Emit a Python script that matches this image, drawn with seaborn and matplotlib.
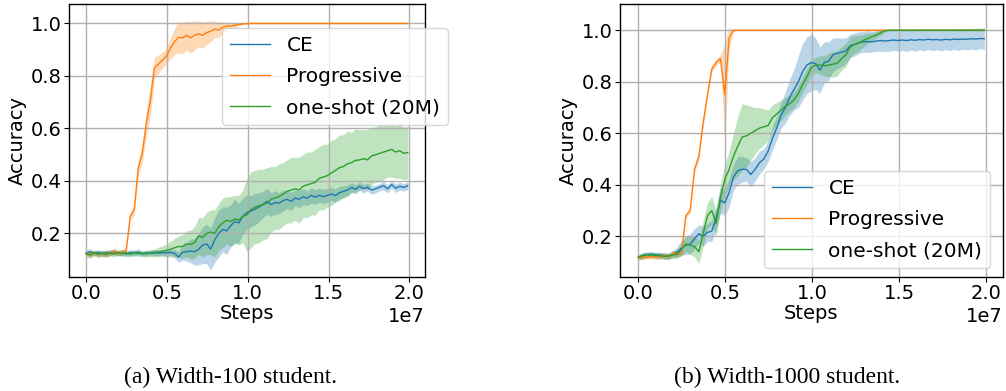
import numpy as np
import pandas as pd
import seaborn as sns
import matplotlib
matplotlib.use("Agg")
import matplotlib.pyplot as plt

################################# data #####################################

# training steps, one reading every 0.025e7 steps
steps = np.linspace(0, 1.99e7, 81)

series_names = ["CE", "Progressive", "one-shot (20M)"]
series_colors = ["tab:blue", "tab:orange", "tab:green"]

# (a) width-100 student
ce_a = [0.125, 0.130, 0.124, 0.128, 0.122, 0.127, 0.125, 0.131, 0.124, 0.128,
        0.122, 0.127, 0.125, 0.129, 0.121, 0.126, 0.124, 0.128, 0.125, 0.127,
        0.126, 0.128, 0.124, 0.110, 0.128, 0.130, 0.133, 0.130, 0.140, 0.155,
        0.160, 0.140, 0.175, 0.200, 0.215, 0.210, 0.230, 0.245, 0.240, 0.265,
        0.280, 0.285, 0.292, 0.300, 0.310, 0.322, 0.310, 0.318, 0.315, 0.325,
        0.330, 0.322, 0.335, 0.330, 0.340, 0.334, 0.345, 0.338, 0.345, 0.340,
        0.345, 0.350, 0.344, 0.355, 0.360, 0.365, 0.375, 0.368, 0.380, 0.370,
        0.376, 0.365, 0.370, 0.376, 0.382, 0.370, 0.386, 0.372, 0.380, 0.375, 0.382]
ce_a_sd = [0.010, 0.012, 0.010, 0.011, 0.010, 0.012, 0.010, 0.011, 0.010, 0.012,
           0.010, 0.011, 0.010, 0.012, 0.010, 0.011, 0.010, 0.012, 0.011, 0.010,
           0.012, 0.011, 0.015, 0.020, 0.030, 0.035, 0.045, 0.050, 0.060, 0.070,
           0.075, 0.080, 0.085, 0.090, 0.085, 0.090, 0.080, 0.085, 0.075, 0.070,
           0.065, 0.060, 0.060, 0.055, 0.050, 0.050, 0.045, 0.045, 0.040, 0.040,
           0.035, 0.035, 0.030, 0.032, 0.030, 0.028, 0.030, 0.028, 0.026, 0.028,
           0.026, 0.025, 0.026, 0.024, 0.022, 0.020, 0.018, 0.018, 0.016, 0.016,
           0.015, 0.016, 0.015, 0.014, 0.016, 0.015, 0.014, 0.016, 0.015, 0.014, 0.015]
prog_a = [0.125, 0.120, 0.126, 0.119, 0.124, 0.121, 0.126, 0.130, 0.124, 0.128,
          0.135, 0.265, 0.290, 0.450, 0.505, 0.620, 0.705, 0.830, 0.845, 0.860,
          0.875, 0.905, 0.930, 0.947, 0.945, 0.955, 0.945, 0.955, 0.960, 0.955,
          0.965, 0.970, 0.978, 0.975, 0.985, 0.990, 0.990, 0.993, 0.996, 0.998,
          0.999, 1.000, 1.000, 1.000, 1.000, 1.000, 1.000, 1.000, 1.000, 1.000,
          1.000, 1.000, 1.000, 1.000, 1.000, 1.000, 1.000, 1.000, 1.000, 1.000,
          1.000, 1.000, 1.000, 1.000, 1.000, 1.000, 1.000, 1.000, 1.000, 1.000,
          1.000, 1.000, 1.000, 1.000, 1.000, 1.000, 1.000, 1.000, 1.000, 1.000, 1.000]
prog_a_sd = [0.010, 0.012, 0.010, 0.011, 0.010, 0.012, 0.011, 0.012, 0.010, 0.011,
             0.012, 0.015, 0.020, 0.030, 0.035, 0.050, 0.060, 0.040, 0.035, 0.030,
             0.030, 0.040, 0.050, 0.060, 0.060, 0.055, 0.060, 0.055, 0.050, 0.050,
             0.045, 0.040, 0.030, 0.030, 0.020, 0.015, 0.012, 0.010, 0.006, 0.004,
             0.002, 0.002, 0.002, 0.002, 0.002, 0.002, 0.002, 0.002, 0.002, 0.002,
             0.002, 0.002, 0.002, 0.002, 0.002, 0.002, 0.002, 0.002, 0.002, 0.002,
             0.002, 0.002, 0.002, 0.002, 0.002, 0.002, 0.002, 0.002, 0.002, 0.002,
             0.002, 0.002, 0.002, 0.002, 0.002, 0.002, 0.002, 0.002, 0.002, 0.002, 0.002]
oneshot_a = [0.122, 0.118, 0.126, 0.120, 0.125, 0.119, 0.126, 0.122, 0.127, 0.123,
             0.125, 0.121, 0.126, 0.123, 0.125, 0.122, 0.126, 0.124, 0.130, 0.132,
             0.135, 0.140, 0.145, 0.150, 0.150, 0.160, 0.158, 0.165, 0.190, 0.185,
             0.200, 0.205, 0.200, 0.225, 0.240, 0.250, 0.245, 0.255, 0.250, 0.265,
             0.270, 0.290, 0.300, 0.305, 0.310, 0.315, 0.330, 0.335, 0.340, 0.350,
             0.360, 0.365, 0.370, 0.365, 0.380, 0.385, 0.390, 0.395, 0.410, 0.415,
             0.420, 0.430, 0.440, 0.450, 0.455, 0.465, 0.470, 0.478, 0.480, 0.485,
             0.480, 0.495, 0.500, 0.505, 0.510, 0.515, 0.520, 0.510, 0.515, 0.505, 0.508]
oneshot_a_sd = [0.010, 0.012, 0.010, 0.011, 0.012, 0.010, 0.011, 0.012, 0.010, 0.011,
                0.010, 0.011, 0.012, 0.010, 0.011, 0.012, 0.013, 0.015, 0.018, 0.020,
                0.025, 0.030, 0.035, 0.040, 0.045, 0.050, 0.055, 0.060, 0.070, 0.075,
                0.080, 0.085, 0.090, 0.090, 0.095, 0.090, 0.095, 0.090, 0.095, 0.100,
                0.140, 0.145, 0.140, 0.140, 0.135, 0.135, 0.125, 0.120, 0.125, 0.120,
                0.120, 0.125, 0.120, 0.125, 0.120, 0.125, 0.120, 0.125, 0.120, 0.125,
                0.120, 0.125, 0.120, 0.125, 0.120, 0.125, 0.115, 0.120, 0.115, 0.110,
                0.115, 0.110, 0.105, 0.110, 0.105, 0.100, 0.105, 0.100, 0.105, 0.100, 0.100]

# (b) width-1000 student
ce_b = [0.118, 0.125, 0.128, 0.130, 0.128, 0.127, 0.125, 0.122, 0.130, 0.140,
        0.155, 0.165, 0.170, 0.190, 0.210, 0.200, 0.215, 0.220, 0.270, 0.340,
        0.330, 0.370, 0.430, 0.455, 0.460, 0.460, 0.440, 0.460, 0.485, 0.500,
        0.530, 0.580, 0.620, 0.670, 0.700, 0.740, 0.770, 0.800, 0.840, 0.865,
        0.875, 0.870, 0.845, 0.875, 0.880, 0.905, 0.910, 0.915, 0.920, 0.940,
        0.945, 0.952, 0.955, 0.956, 0.955, 0.958, 0.960, 0.958, 0.960, 0.962,
        0.960, 0.962, 0.960, 0.963, 0.961, 0.964, 0.962, 0.965, 0.963, 0.964,
        0.962, 0.965, 0.963, 0.966, 0.964, 0.966, 0.965, 0.967, 0.966, 0.968, 0.967]
ce_b_sd = [0.010, 0.012, 0.010, 0.011, 0.010, 0.012, 0.011, 0.012, 0.015, 0.020,
           0.030, 0.035, 0.040, 0.040, 0.035, 0.040, 0.035, 0.040, 0.045, 0.050,
           0.050, 0.055, 0.050, 0.055, 0.050, 0.045, 0.050, 0.045, 0.045, 0.040,
           0.040, 0.045, 0.045, 0.050, 0.060, 0.070, 0.080, 0.100, 0.110, 0.110,
           0.110, 0.100, 0.090, 0.080, 0.075, 0.065, 0.060, 0.055, 0.050, 0.045,
           0.045, 0.042, 0.040, 0.042, 0.040, 0.040, 0.042, 0.040, 0.042, 0.040,
           0.042, 0.040, 0.042, 0.040, 0.042, 0.040, 0.042, 0.040, 0.042, 0.040,
           0.042, 0.040, 0.042, 0.040, 0.042, 0.040, 0.042, 0.040, 0.042, 0.040, 0.042]
prog_b = [0.120, 0.118, 0.120, 0.122, 0.119, 0.121, 0.125, 0.120, 0.135, 0.130,
          0.135, 0.280, 0.300, 0.460, 0.510, 0.640, 0.750, 0.850, 0.875, 0.890,
          0.750, 0.970, 1.000, 1.000, 1.000, 1.000, 1.000, 1.000, 1.000, 1.000,
          1.000, 1.000, 1.000, 1.000, 1.000, 1.000, 1.000, 1.000, 1.000, 1.000,
          1.000, 1.000, 1.000, 1.000, 1.000, 1.000, 1.000, 1.000, 1.000, 1.000,
          1.000, 1.000, 1.000, 1.000, 1.000, 1.000, 1.000, 1.000, 1.000, 1.000,
          1.000, 1.000, 1.000, 1.000, 1.000, 1.000, 1.000, 1.000, 1.000, 1.000,
          1.000, 1.000, 1.000, 1.000, 1.000, 1.000, 1.000, 1.000, 1.000, 1.000, 1.000]
prog_b_sd = [0.008, 0.010, 0.008, 0.010, 0.009, 0.010, 0.012, 0.010, 0.012, 0.010,
             0.010, 0.010, 0.012, 0.015, 0.015, 0.015, 0.015, 0.012, 0.012, 0.015,
             0.200, 0.040, 0.005, 0.002, 0.002, 0.002, 0.002, 0.002, 0.002, 0.002,
             0.002, 0.002, 0.002, 0.002, 0.002, 0.002, 0.002, 0.002, 0.002, 0.002,
             0.002, 0.002, 0.002, 0.002, 0.002, 0.002, 0.002, 0.002, 0.002, 0.002,
             0.002, 0.002, 0.002, 0.002, 0.002, 0.002, 0.002, 0.002, 0.002, 0.002,
             0.002, 0.002, 0.002, 0.002, 0.002, 0.002, 0.002, 0.002, 0.002, 0.002,
             0.002, 0.002, 0.002, 0.002, 0.002, 0.002, 0.002, 0.002, 0.002, 0.002, 0.002]
oneshot_b = [0.118, 0.125, 0.128, 0.127, 0.126, 0.125, 0.122, 0.124, 0.128, 0.130,
             0.150, 0.170, 0.165, 0.160, 0.140, 0.210, 0.280, 0.300, 0.250, 0.350,
             0.420, 0.460, 0.510, 0.550, 0.585, 0.590, 0.600, 0.610, 0.620, 0.625,
             0.630, 0.660, 0.675, 0.690, 0.705, 0.715, 0.730, 0.755, 0.790, 0.820,
             0.855, 0.865, 0.865, 0.862, 0.865, 0.868, 0.872, 0.890, 0.905, 0.935,
             0.945, 0.950, 0.960, 0.968, 0.975, 0.982, 0.990, 0.998, 1.000, 1.000,
             1.000, 1.000, 1.000, 1.000, 1.000, 1.000, 1.000, 1.000, 1.000, 1.000,
             1.000, 1.000, 1.000, 1.000, 1.000, 1.000, 1.000, 1.000, 1.000, 1.000, 1.000]
oneshot_b_sd = [0.010, 0.011, 0.012, 0.010, 0.011, 0.010, 0.012, 0.011, 0.012, 0.015,
                0.025, 0.030, 0.035, 0.040, 0.045, 0.050, 0.050, 0.055, 0.050, 0.055,
                0.060, 0.070, 0.090, 0.115, 0.130, 0.120, 0.105, 0.090, 0.080, 0.070,
                0.060, 0.050, 0.045, 0.040, 0.035, 0.030, 0.030, 0.030, 0.030, 0.030,
                0.030, 0.030, 0.035, 0.040, 0.045, 0.050, 0.050, 0.045, 0.045, 0.040,
                0.035, 0.030, 0.025, 0.020, 0.015, 0.012, 0.010, 0.005, 0.003, 0.002,
                0.002, 0.002, 0.002, 0.002, 0.002, 0.002, 0.002, 0.002, 0.002, 0.002,
                0.002, 0.002, 0.002, 0.002, 0.002, 0.002, 0.002, 0.002, 0.002, 0.002, 0.002]

captions = ["(a) Width-100 student.", "(b) Width-1000 student."]
xtick_vals = [0, 0.5e7, 1.0e7, 1.5e7, 2.0e7]
ytick_vals = [0.2, 0.4, 0.6, 0.8, 1.0]

################################# functions ################################

def draw_panel(ax, means, sds, ylim):
    for name, color, mean, sd in zip(series_names, series_colors, means, sds):
        mean = np.array(mean)
        sd = np.array(sd)
        df = pd.DataFrame({"Steps": steps, "Accuracy": mean})
        ax.fill_between(steps, mean - sd, mean + sd, color=color, alpha=0.3, lw=0)
        sns.lineplot(data=df, x="Steps", y="Accuracy", ax=ax, color=color,
                     lw=1.0, label=name)
    ax.set_xlim(-0.105e7, 2.097e7)
    ax.set_ylim(*ylim)
    ax.set_xticks(xtick_vals)
    ax.set_yticks(ytick_vals)
    ax.grid(True, color="#b0b0b0", lw=1.0)
    ax.tick_params(labelsize=14, pad=1.5)
    ax.xaxis.get_offset_text().set_fontsize(14)
    ax.set_xlabel("Steps", fontsize=14, labelpad=1)
    ax.set_ylabel("Accuracy", fontsize=14, labelpad=3)
    for sp in ax.spines.values():
        sp.set_linewidth(1.0)


fig = plt.figure(figsize=(10.06, 3.91), dpi=100)
ax1 = fig.add_axes([0.0686, 0.2916, 0.3539, 0.6982])
ax2 = fig.add_axes([0.6163, 0.2916, 0.3807, 0.6982])

draw_panel(ax1, [ce_a, prog_a, oneshot_a], [ce_a_sd, prog_a_sd, oneshot_a_sd], (0.034, 1.074))
draw_panel(ax2, [ce_b, prog_b, oneshot_b], [ce_b_sd, prog_b_sd, oneshot_b_sd], (0.042, 1.102))

ax1.legend(loc="upper left", bbox_to_anchor=(0.2207, 0.928), bbox_transform=fig.transFigure,
           borderaxespad=0, fontsize=14.5, labelspacing=0.6)
ax2.legend(loc="upper left", bbox_to_anchor=(0.7594, 0.5627), bbox_transform=fig.transFigure,
           borderaxespad=0, fontsize=14.5, labelspacing=0.6)

fig.text(230 / 1006, 1 - 377 / 391, captions[0], ha="center", va="center",
         family="Liberation Serif", fontsize=17)
fig.text(787 / 1006, 1 - 377 / 391, captions[1], ha="center", va="center",
         family="Liberation Serif", fontsize=17)

fig.savefig("out.png", dpi=100)
